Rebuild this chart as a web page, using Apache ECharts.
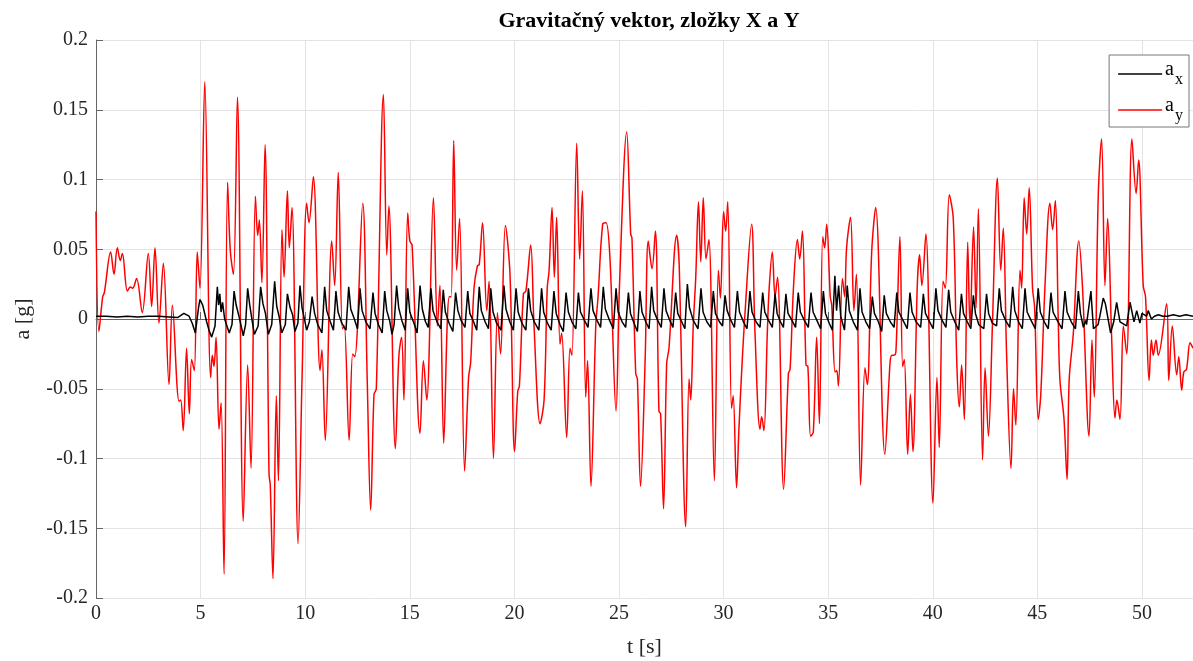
<!DOCTYPE html>
<html><head><meta charset="utf-8">
<script src="https://cdn.jsdelivr.net/npm/echarts@6/dist/echarts.min.js"></script>
<style>html,body{margin:0;padding:0;background:#fff}#c{width:1193px;height:661px}</style>
</head><body><div id="c"></div>
<script>
const titleText = 'Gravitačný vektor, zložky X a Y';
const xName = 't [s]';
const yName = 'a [g]';
const seriesNames = ['a_x', 'a_y'];
const xMax = 52.44;

const ax = [
[0,0.002],[0.5,0.002],[1,0.0015],[1.5,0.002],[2,0.0015],[2.5,0.002],[3,0.002],[3.5,0.0015],[3.9,0.001],[4.2,0.004],[4.45,0.002],[4.6,-0.003],[4.75,-0.010],[4.9,0.008],[4.97,0.014],[5.1,0.010],[5.29,-0.002],[5.4,-0.008],[5.53,-0.013],[5.69,-0.005],[5.8,0.023],[5.86,0.010],[5.92,0.018],[5.98,0.005],[6.05,0.012],[6.15,0.000],[6.37,-0.010],[6.5,-0.004],[6.6,0.020],[6.7,0.010],[6.85,0.001],[7.04,-0.012],[7.15,-0.004],[7.25,0.022],[7.35,0.010],[7.45,0.000],[7.57,-0.011],[7.75,-0.005],[7.87,0.023],[7.98,0.011],[8.1,0.004],[8.24,-0.011],[8.4,-0.004],[8.54,0.027],[8.64,0.009],[8.75,0.002],[8.88,-0.010],[9.05,-0.004],[9.15,0.018],[9.28,0.008],[9.4,0.003],[9.51,-0.009],[9.65,-0.003],[9.75,0.024],[9.85,0.008],[9.95,0.001],[10.07,-0.008],[10.2,-0.002],
[10.33,0.016],[10.45,0.004],[10.6,-0.004],[10.8,-0.010],[10.93,0.023],[11.03,0.006],[11.2,-0.002],[11.35,-0.008],[11.47,0.020],[11.57,0.005],[11.75,-0.003],[11.95,-0.008],[12.08,0.023],[12.18,0.007],[12.35,0.000],[12.5,-0.007],[12.62,0.022],[12.72,0.006],[12.9,-0.002],[13.1,-0.007],[13.24,0.019],[13.34,0.004],[13.5,-0.004],[13.68,-0.010],[13.8,0.020],[13.9,0.006],[14.05,-0.002],[14.15,-0.011],[14.25,-0.004],[14.37,0.024],[14.47,0.008],[14.62,-0.001],[14.78,-0.008],[14.9,0.022],[15.0,0.005],[15.2,-0.003],[15.35,-0.010],[15.49,0.024],[15.6,0.007],[15.75,-0.002],[15.88,-0.006],[16.01,0.022],[16.11,0.006],[16.3,-0.002],[16.48,-0.007],[16.6,0.021],[16.7,0.005],[16.88,-0.003],[17.06,-0.009],[17.19,0.019],[17.3,0.006],[17.45,-0.001],[17.64,-0.006],[17.77,0.020],[17.87,0.004],[18.05,-0.002],[18.2,-0.008],[18.32,0.023],[18.42,0.006],[18.6,-0.002],[18.76,-0.007],[18.87,0.022],[18.98,0.005],[19.15,-0.003],[19.36,-0.008],[19.5,0.024],[19.6,0.007],[19.78,-0.002],[19.95,-0.008],[20.08,0.022],[20.18,0.005],[20.36,-0.003],[20.55,-0.008],[20.67,0.022],[20.78,0.006],[20.95,-0.002],[21.17,-0.008],[21.3,0.022],[21.4,0.005],[21.58,-0.003],[21.76,-0.008],[21.89,0.020],[22.0,0.004],[22.18,-0.004],[22.34,-0.009],[22.47,0.019],[22.58,0.005],[22.75,-0.002],[22.94,-0.007],[23.06,0.019],[23.16,0.005],[23.35,-0.001],[23.52,-0.006],[23.66,0.022],[23.76,0.006],[23.95,-0.001],[24.12,-0.006],[24.25,0.023],[24.35,0.007],[24.55,-0.001],[24.73,-0.007],[24.86,0.022],[24.96,0.005],[25.15,-0.002],[25.32,-0.006],[25.45,0.019],[25.55,0.004],[25.72,-0.003],[25.88,-0.009],[26.0,0.020],[26.1,0.005],[26.28,-0.002],[26.44,-0.007],[26.56,0.023],[26.66,0.006],[26.85,-0.001],[27.02,-0.006],[27.15,0.022],[27.25,0.006],[27.43,-0.001],[27.58,-0.006],[27.71,0.019],[27.81,0.004],[28.0,-0.002],[28.15,-0.007],[28.27,0.025],[28.37,0.008],[28.55,-0.001],[28.78,-0.007],[28.92,0.022],[29.02,0.005],[29.2,-0.002],[29.38,-0.006],[29.51,0.020],[29.61,0.004],[29.8,-0.002],[29.95,-0.005],[30.07,0.017],[30.17,0.006],[30.35,-0.001],[30.52,-0.006],[30.66,0.020],[30.76,0.005],[30.95,-0.002],[31.12,-0.007],[31.26,0.020],[31.36,0.005],[31.55,-0.002],[31.74,-0.006],[31.87,0.019],[31.97,0.005],[32.15,-0.001],[32.33,-0.006],[32.46,0.018],[32.56,0.004],[32.72,-0.002],[32.86,-0.006],[32.98,0.018],[33.08,0.004],[33.27,-0.001],[33.44,-0.006],[33.57,0.019],[33.67,0.005],[33.86,-0.001],[34.05,-0.006],[34.18,0.019],[34.28,0.005],[34.46,-0.001],[34.64,-0.007],[34.77,0.020],[34.87,0.004],[35.05,-0.003],[35.2,-0.008],[35.32,0.031],[35.4,0.006],[35.5,0.024],[35.6,0.002],[35.78,-0.008],[35.91,0.024],[36.01,0.006],[36.2,-0.002],[36.4,-0.008],[36.52,0.022],[36.62,0.005],[36.8,-0.002],[36.98,-0.007],[37.11,0.016],[37.21,0.004],[37.4,-0.002],[37.56,-0.009],[37.68,0.017],[37.78,0.004],[37.97,-0.002],[38.15,-0.006],[38.28,0.019],[38.38,0.005],[38.58,-0.001],[38.78,-0.007],[38.91,0.019],[39.01,0.005],[39.2,-0.002],[39.42,-0.006],[39.55,0.018],[39.65,0.004],[39.85,-0.002],[40.02,-0.007],[40.15,0.022],[40.25,0.006],[40.45,-0.001],[40.63,-0.006],[40.76,0.021],[40.86,0.005],[41.05,-0.002],[41.24,-0.008],[41.37,0.018],[41.47,0.004],[41.65,-0.002],[41.82,-0.007],[41.94,0.017],[42.04,0.004],[42.2,-0.004],[42.44,-0.007],[42.57,0.018],[42.67,0.004],[42.85,-0.003],[43.05,-0.005],[43.18,0.022],[43.28,0.006],[43.48,-0.001],[43.68,-0.006],[43.82,0.023],[43.92,0.006],[44.1,-0.002],[44.28,-0.007],[44.41,0.022],[44.51,0.005],[44.7,-0.001],[44.9,-0.007],[45.04,0.022],[45.14,0.005],[45.33,-0.002],[45.52,-0.007],[45.65,0.019],[45.75,0.005],[45.95,-0.001],[46.18,-0.007],[46.32,0.020],[46.42,0.005],[46.62,-0.002],[46.82,-0.007],[46.96,0.020],[47.06,0.004],[47.2,-0.006],[47.3,-0.001],[47.35,-0.004],[47.56,0.020],[47.68,-0.007],[47.9,-0.004],[48.0,0.003],[48.15,0.015],[48.25,0.011],[48.5,-0.010],[48.65,-0.002],[48.79,0.012],[48.95,-0.002],[49.27,-0.005],[49.43,0.012],[49.62,-0.002],[49.75,0.006],[49.9,-0.003],[50.0,0.004],[50.22,0.002],[50.3,0.006],[50.45,0.000],[50.6,0.002],[50.78,0.003],[51.0,0.002],[51.2,0.002],[51.5,0.003],[51.8,0.002],[52.1,0.003],[52.44,0.002]
];

const ay = [
[0,0.077],[0.14,-0.009],[0.32,0.016],[0.4,0.019],[0.7,0.048],[0.86,0.032],[1.02,0.051],[1.16,0.042],[1.26,0.047],[1.5,0.020],[1.64,0.023],[1.75,0.022],[1.94,0.029],[2.21,0.0045],[2.5,0.047],[2.66,0.009],[2.82,0.051],[3.01,-0.003],[3.22,0.040],[3.49,-0.047],[3.65,0.010],[3.97,-0.059],[4.05,-0.058],[4.17,-0.080],[4.33,-0.021],[4.46,-0.068],[4.57,-0.029],[4.7,-0.037],[4.84,0.048],[4.97,0.022],[5.2,0.170],
[5.48,-0.042],[5.56,-0.026],[5.64,-0.034],[5.74,-0.013],[5.88,-0.079],[5.98,-0.060],[6.12,-0.183],[6.29,0.098],[6.42,0.049],[6.57,0.032],[6.76,0.159],[7.04,-0.145],[7.25,-0.033],[7.41,-0.107],[7.62,0.088],[7.73,0.060],[7.81,0.071],[7.93,0.026],[8.08,0.125],[8.27,-0.111],[8.33,-0.119],[8.46,-0.186],[8.62,-0.055],[8.72,-0.116],[8.89,0.064],[8.99,0.030],[9.15,0.092],[9.24,0.051],[9.37,0.080],[9.66,-0.161],[9.85,-0.042],[10.07,0.083],[10.18,0.069],[10.39,0.102],
[10.71,-0.037],[10.8,-0.022],[10.96,-0.087],[11.27,0.056],[11.41,0.024],[11.58,0.105],[11.78,-0.007],[11.87,-0.005],[12.1,-0.087],[12.27,-0.025],[12.37,-0.027],[12.75,0.083],[12.97,-0.047],[13.13,-0.137],[13.29,-0.054],[13.4,-0.050],[13.74,0.161],[13.9,0.046],[14.0,0.081],[14.31,-0.093],[14.48,-0.026],[14.61,-0.013],[14.72,-0.058],[14.9,0.076],[15.0,0.056],[15.11,0.053],[15.49,-0.082],
[15.65,-0.030],[15.81,-0.058],[16.13,0.087],[16.32,-0.005],[16.44,0.024],[16.62,-0.089],[16.79,-0.003],[16.89,0.016],[16.98,0.016],[17.1,0.128],[17.24,0.035],[17.38,0.072],[17.62,-0.109],[17.81,-0.042],[17.91,-0.031],[18.07,0.022],[18.23,0.038],[18.32,0.039],[18.48,0.069],[18.68,0.006],[18.79,0.027],[19.0,-0.100],[19.19,0.0045],[19.34,-0.025],[19.57,0.067],[19.79,0.032],[20.01,-0.095],[20.16,-0.052],[20.24,-0.048],[20.43,0.018],[20.55,0.020],[20.78,0.053],
[20.94,-0.005],[21.23,-0.075],[21.42,-0.058],[21.57,0.022],[21.66,0.035],[21.8,0.080],[21.91,0.030],[22.02,0.073],[22.18,-0.018],[22.26,-0.010],[22.5,-0.085],[22.66,-0.021],[22.75,-0.026],[22.98,0.126],[23.12,0.043],[23.25,0.092],[23.41,-0.056],[23.5,-0.030],[23.66,-0.120],[23.89,-0.005],[24.0,0.016],[24.22,0.068],[24.38,0.069],[24.57,0.043],[24.86,-0.066],[25.02,0.022],[25.37,0.134],[25.56,0.061],[25.62,0.058],[25.8,-0.039],[25.88,-0.043],[26.03,-0.120],
[26.25,-0.030],[26.4,0.056],[26.58,0.036],[26.74,0.063],[26.91,-0.066],[26.99,-0.068],[27.13,-0.136],[27.28,-0.032],[27.39,-0.021],[27.76,0.060],[27.88,0.038],[28.19,-0.149],[28.35,-0.043],[28.43,-0.058],[28.55,-0.005],[28.67,0.030],[28.8,0.084],[28.91,0.041],[29.03,0.087],[29.16,0.043],[29.3,0.057],[29.56,-0.116],[29.75,0.035],[29.85,0.015],[30.0,0.077],[30.1,0.063],[30.2,0.084],[30.38,-0.064],[30.46,-0.055],[30.62,-0.121],[30.73,-0.080],[30.86,-0.039],[31.02,0.003],[31.34,0.068],
[31.5,-0.009],[31.74,-0.079],[31.82,-0.070],[31.93,-0.080],[32.09,-0.010],[32.18,0.022],[32.33,0.048],[32.46,0.016],[32.58,0.030],[32.87,-0.122],[33.1,-0.039],[33.18,-0.036],[33.34,0.022],[33.53,0.057],[33.64,0.043],[33.77,0.063],[33.94,-0.033],[34.03,-0.034],[34.16,-0.084],[34.29,-0.081],[34.45,-0.013],[34.58,-0.075],[34.74,0.059],[34.83,0.051],[34.93,0.068],[35.1,0.016],[35.17,0.010],[35.33,-0.038],[35.41,-0.037],[35.49,-0.048],[35.68,0.029],[35.79,0.016],[35.88,0.051],[36.07,0.073],[36.23,0.006],[36.35,0.032],[36.55,-0.119],
[36.76,-0.035],[36.87,-0.047],[37.08,0.048],[37.27,0.080],[37.71,-0.097],[37.96,-0.031],[38.05,-0.026],[38.15,-0.026],[38.24,-0.023],[38.43,0.059],[38.56,-0.034],[38.64,-0.029],[38.8,-0.097],[38.93,-0.054],[39.05,-0.095],[39.26,0.024],[39.37,0.046],[39.48,0.024],[39.67,0.061],[40.01,-0.132],[40.2,-0.042],[40.31,-0.092],[40.49,0.027],[40.6,0.022],[40.79,0.089],[40.98,0.072],[41.15,-0.032],[41.27,-0.063],[41.38,-0.033],[41.51,-0.072],[41.67,0.055],[41.78,-0.005],[41.95,0.066],
[42.07,0.008],[42.18,0.079],[42.38,-0.101],[42.5,-0.035],[42.66,-0.084],[42.85,-0.005],[43.09,0.101],[43.25,0.035],[43.37,0.065],[43.53,-0.026],[43.74,-0.107],[43.86,-0.050],[43.97,-0.076],[44.17,0.035],[44.25,0.022],[44.37,0.087],[44.49,0.061],[44.61,0.094],[44.77,0.022],[44.87,0.008],[45.04,-0.072],[45.16,-0.055],[45.36,0.022],[45.6,0.083],[45.73,0.064],[45.86,0.085],[46.0,-0.002],[46.08,-0.044],[46.27,-0.071],[46.42,-0.115],[46.52,-0.044],[46.72,-0.010],[46.98,0.056],
[47.16,0.022],[47.47,-0.084],[47.61,-0.015],[47.72,-0.056],[47.91,0.088],[48.07,0.129],[48.23,0.024],[48.36,0.072],[48.55,-0.013],[48.71,-0.071],[48.8,-0.058],[48.95,-0.072],[49.11,-0.005],[49.27,-0.025],[49.52,0.129],[49.72,0.090],[49.84,0.114],[50.06,0.024],[50.17,0.016],[50.34,-0.044],[50.45,-0.015],[50.54,-0.026],[50.67,-0.015],[50.78,-0.026],[51.18,0.011],[51.28,-0.044],[51.45,-0.005],[51.66,-0.040],[51.76,-0.027],[51.9,-0.051],[52.0,-0.038],[52.13,-0.036],[52.3,-0.017],[52.44,-0.021]
];

const FONT = 'Liberation Serif';
const chart = echarts.init(document.getElementById('c'));
chart.setOption({
  backgroundColor: '#ffffff',
  animation: false,
  title: {
    text: titleText, left: 644, top: 5, textAlign: 'center',
    textStyle: { fontFamily: FONT, fontSize: 22, fontWeight: 'bold', color: '#000' }
  },
  grid: { left: 96, right: 0, top: 40, bottom: 63, outerBoundsMode: 'none', containLabel: false },
  legend: {
    orient: 'vertical', right: 4, top: 55,
    backgroundColor: '#fff', borderColor: '#777', borderWidth: 1,
    padding: [5, 6, 3, 9], itemGap: 8, itemWidth: 44, itemHeight: 1.5,
    icon: 'rect',
    formatter: n => '{a|a}{s|' + n.split('_')[1] + '}',
    textStyle: {
      fontFamily: FONT, color: '#000', padding: [0,0,0,-2],
      rich: {
        a: { fontFamily: FONT, fontSize: 20, color: '#000', lineHeight: 28, verticalAlign: 'top' },
        s: { fontFamily: FONT, fontSize: 16, color: '#000', lineHeight: 28, verticalAlign: 'bottom', padding: [12,0,0,1] }
      }
    },
    data: seriesNames
  },
  xAxis: {
    type: 'value', min: 0, max: xMax, interval: 5,
    name: xName, nameLocation: 'middle', nameGap: 38,
    nameTextStyle: { fontFamily: FONT, fontSize: 22, color: '#262626' },
    axisLine: { show: true, lineStyle: { color: '#666', width: 1 } },
    axisTick: { show: true, inside: true, length: 7, lineStyle: { color: '#666' } },
    axisLabel: { fontFamily: FONT, fontSize: 20, color: '#262626', margin: 6, showMaxLabel: false },
    splitLine: { show: true, lineStyle: { color: '#e3e3e3', width: 1 } }
  },
  yAxis: {
    type: 'value', min: -0.2, max: 0.2, interval: 0.05,
    name: yName, nameLocation: 'middle', nameGap: 62,
    nameTextStyle: { fontFamily: FONT, fontSize: 22, color: '#262626' },
    axisLine: { show: true, lineStyle: { color: '#666', width: 1 } },
    axisTick: { show: true, inside: true, length: 7, lineStyle: { color: '#666' } },
    axisLabel: { fontFamily: FONT, fontSize: 20, color: '#262626', margin: 8,
      formatter: v => String(+v.toFixed(2)) },
    splitLine: { show: true, lineStyle: { color: '#e3e3e3', width: 1 } }
  },
  series: [
    { name: seriesNames[0], type: 'line', data: ax, symbol: 'none', smooth: false,
      lineStyle: { color: '#000', width: 1.5 }, itemStyle: { color: '#000' }, z: 3 },
    { name: seriesNames[1], type: 'line', data: ay, symbol: 'none', smooth: 0.35,
      lineStyle: { color: '#ff0000', width: 1.5 }, itemStyle: { color: '#ff0000' }, z: 2 }
  ]
});
</script></body></html>
